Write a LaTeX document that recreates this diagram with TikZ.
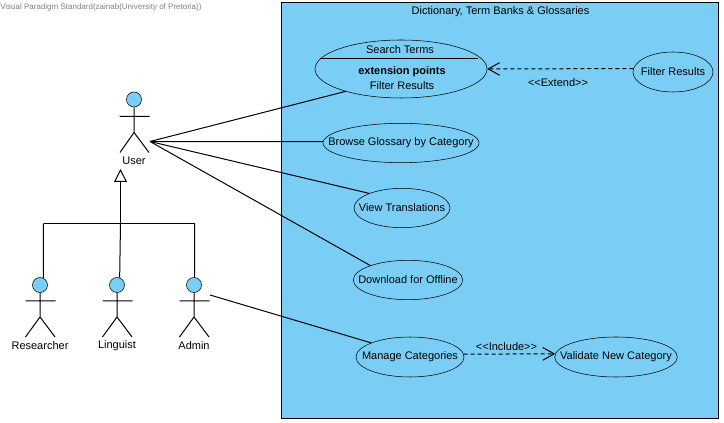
\documentclass[tikz,border=0pt]{standalone}
\usepackage{fontspec}
\setmainfont{Liberation Sans}
\newfontfamily\stereofont{Liberation Sans}
\usepackage{xcolor}
\usetikzlibrary{arrows.meta, shapes.geometric}
\definecolor{sysblue}{HTML}{7ACEF5}
\newcommand{\uctext}[1]{\makebox[0pt]{#1}}

\begin{document}
\begin{tikzpicture}[
    x=0.75pt,
    y=-0.75pt,
    every node/.style={font=\fontsize{8.25}{10}\selectfont},
    usecase/.style={draw, ellipse, fill=sysblue, inner sep=0pt, minimum width=81pt, minimum height=29.5pt},
    head/.style={draw, circle, fill=sysblue, inner sep=0pt, minimum size=11.25pt},
    actorlabel/.style={inner sep=0pt},
    stereo/.style={font=\fontsize{8.25}{10}\stereofont},
    wire/.style={line width=0.75pt},
    dep/.style={line width=0.75pt, dash pattern=on 3pt off 2.25pt, -{Straight Barb[length=8.5pt,width=9.5pt]}},
    gen/.style={line width=0.75pt, -{Triangle[open,length=9.75pt,width=9.75pt]}}
]
    \useasboundingbox (0,0) rectangle (724,423);
    \node[text=gray, anchor=west, inner sep=0pt, font=\fontsize{6}{8}\selectfont] (mark) at (0,7) {Visual Paradigm Standard(zainab(University of Pretoria))};

    % system
    \node[draw, fill=sysblue, line width=0.75pt, anchor=north west, inner sep=0pt, minimum width=328pt, minimum height=312pt] (sys) at (281,2) {};
    \node (systitle) at (500.5,11.5) {Dictionary, Term Banks \& Glossaries};

    % use cases
    \node[usecase, minimum width=129pt, minimum height=43.5pt] (search) at (401,69) {};
    \draw[wire] (320,58.5) -- (478,58.5);
    \node (searchtxt) at (400,50) {Search Terms};
    \node[font=\fontsize{8.25}{10}\selectfont\bfseries] (exttxt) at (402,71.5) {extension points};
    \node (pointtxt) at (402,86) {Filter Results};
    \node[usecase, minimum width=60pt, minimum height=30pt] (filter) at (673,72) {\uctext{Filter Results}};
    \node[usecase, minimum width=117pt] (browse) at (401,143) {\uctext{Browse Glossary by Category}};
    \node[usecase, minimum width=72pt] (view) at (402,208) {\uctext{View Translations}};
    \node[usecase, minimum width=82pt] (download) at (408,280) {\uctext{Download for Offline}};
    \node[usecase, minimum height=30pt] (manage) at (410,357) {\uctext{Manage Categories}};
    \node[usecase, minimum width=92pt, minimum height=30pt] (validate) at (616,357) {\uctext{Validate New Category}};

    \draw[dep] (filter.175) -- (search.east);
    \node[stereo] (extend) at (558,82.5) {<<Extend>>};
    \draw[dep] (manage.3) -- (validate.177);
    \node[stereo] (include) at (506.5,346.5) {<<Include>>};

    % actors
    \node[head] (userhead) at (134,99.5) {};
    \draw[wire] (userhead) -- (134,132.5) -- (120,152.5) (134,132.5) -- (149,152.5) (119.5,116.5) -- (149.5,116.5);
    \node[actorlabel] (user) at (134,161) {User};

    \node[head] (reshead) at (40,285) {};
    \draw[wire] (reshead) -- (40,317) -- (25.5,337) (40,317) -- (55,337) (25.5,301) -- (55.5,301);
    \node[actorlabel] (researcher) at (40,345.5) {Researcher};

    \node[head] (linghead) at (117,285) {};
    \draw[wire] (linghead) -- (117,317) -- (102.5,337) (117,317) -- (132,337) (102.5,301) -- (132.5,301);
    \node[actorlabel] (linguist) at (117,345.5) {Linguist};

    \node[head] (adminhead) at (194,285) {};
    \draw[wire] (adminhead) -- (194,317) -- (179.5,337) (194,317) -- (209,337) (179.5,301) -- (209.5,301);
    \node[actorlabel] (admin) at (194,345.5) {Admin};

    % associations
    \coordinate (userport) at (150,141.5);
    \coordinate (adminport) at (210,295);
    \draw[wire] (userport) -- (search.202);
    \draw[wire] (userport) -- (browse.179);
    \draw[wire] (userport) -- (view.156);
    \draw[wire] (userport) -- (download.159);
    \draw[wire] (adminport) -- (manage.160);

    % generalisation
    \coordinate (hub) at (120.5,223.5);
    \coordinate (gentip) at (120.5,169);
    \coordinate (rescorner) at (43.5,223.5);
    \coordinate (admincorner) at (194.5,223.5);
    \draw[gen] (hub) -- (gentip);
    \draw[wire] (rescorner) -- (admincorner);
    \draw[wire] (rescorner) -- (reshead.64);
    \draw[wire] (admincorner) -- (adminhead.85);
    \draw[wire] (hub) -- (linghead.70);
\end{tikzpicture}
\end{document}
